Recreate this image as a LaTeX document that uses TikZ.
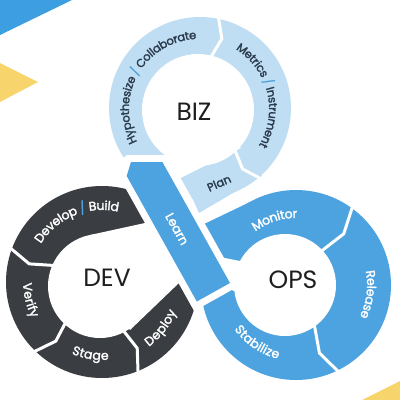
\documentclass[tikz,border=0pt]{standalone}
\usepackage{fontspec}
\setmainfont{Poppins}
\newfontfamily\lblfont[FakeBold=2]{Poppins}
\usetikzlibrary{calc,decorations.text}
\definecolor{lightb}{HTML}{BFDDF3}
\definecolor{midb}{HTML}{4DA3DF}
\definecolor{darkg}{HTML}{3A3D42}
\definecolor{navy}{HTML}{2A3B4C}
\definecolor{ylw}{HTML}{F7D46C}
\definecolor{bandb}{HTML}{3E9EE2}
\definecolor{ink}{HTML}{1E1E1E}
\newcommand\lbl{\lblfont\fontsize{11.5}{13}\selectfont}
\newcommand\lblb{\lblfont\fontsize{12.5}{14}\selectfont}
\newcommand\mychev[7]{\draw[sepline] ($(#1,#2)+(#3:#6)$) -- ($(#1,#2)+({#3+#7}:#5)$) -- ($(#1,#2)+(#3:#4)$);}
\begin{document}
\begin{tikzpicture}[x=1pt,y=-1pt,
  sepline/.style={white,line width=3pt,line join=miter,miter limit=4},
  ringtext/.style={decorate,decoration={text along path,text align=center,raise=-3.9pt}},
  bigtxt/.style={text=ink,font=\fontsize{25}{30}\selectfont,inner sep=0pt}]
\useasboundingbox (0,0) rectangle (400,400);
\fill[white] (0,0) rectangle (400,400);
% corner decorations
\fill[bandb] (0,0) -- (72,0) -- (0,35) -- cycle;
\fill[ylw] (0,63) -- (38,82) -- (0,102) -- cycle;
\fill[ylw] (362,400) -- (400,381) -- (400,400) -- cycle;
% BIZ ring
\begin{scope}
  \clip (0,0) -- (400,0) -- (400,260) -- (226.5,260) -- (169,157) -- (0,157) -- cycle;
  \fill[lightb] (200,108) circle[radius=91pt];
\end{scope}
\fill[lightb] (199,213) -- (262,176) -- (245,158) -- (185,182) -- cycle;
\fill[white] (198,110) circle[radius=56pt];
\fill[white] (198,110) -- (241,148) -- (180.5,178) -- (165,170) -- (168,157) -- cycle;
% DEV ring
\fill[darkg] (102,282) circle[radius=96pt];
\fill[white] (100,286) circle[radius=52pt];
\fill[white] (90,235) -- (145,223) -- (176,218) -- (200,265) -- (180,282) -- (130,330) -- (100,286) -- cycle;
% OPS ring
\fill[midb] (296,285) circle[radius=95pt];
\fill[midb] (200,226) -- (250,202) -- (275,230) -- (232,262) -- cycle;
\fill[white] (285,285) circle[radius=51pt];
\fill[white] (240,261) -- (210,255) -- (222,285) -- (234,291) -- (285,285) -- cycle;
% separators
\mychev{199}{109}{281}{48}{74}{98}{7}
\mychev{199}{109}{47}{50}{74}{100}{7}
\mychev{102}{282}{201}{45}{75}{101}{-7}
\mychev{102}{282}{135}{45}{75}{101}{-7}
\mychev{102}{282}{69}{45}{75}{101}{-7}
\mychev{296}{285}{305}{38}{70}{101}{8}
\mychev{296}{285}{63}{38}{72}{101}{8}
% Learn strip
\draw[white,line width=14pt,line join=miter] (131,162) -- (162.4,162) -- (230,283) -- (196.8,301.5) -- (126.7,176) -- cycle;
\fill[midb] (131,162) -- (162.4,162) -- (230,283) -- (196.8,301.5) -- (126.7,176) -- cycle;
% ring texts
\path[ringtext,decoration={text={|\lbl\color{navy}|Hypothesize |\lbl\color{midb}|/|\lbl\color{navy}| Collaborate}}]
  plot[domain=138:282,samples=70] ({199+74*cos(\x)},{109+74*sin(\x)});
\path[ringtext,decoration={text={|\lbl\color{navy}|Metrics |\lbl\color{midb}|/|\lbl\color{navy}| Instrument}}]
  plot[domain=283:410,samples=70] ({199+74*cos(\x)},{109+74*sin(\x)});
\path[ringtext,decoration={text={|\lblb\color{white}|Develop |\lblb\color{midb}|/|\lblb\color{white}| Build}}]
  plot[domain=195:300,samples=60] ({102+76*cos(\x)},{282+76*sin(\x)});
\path[ringtext,decoration={text={|\lblb\color{white}|Verify}}]
  plot[domain=0:1,samples=40] ({102+75*cos(198-64*\x)},{282+75*sin(198-64*\x)});
\path[ringtext,decoration={text={|\lblb\color{white}|Stage}}]
  plot[domain=0:1,samples=40] ({102+74*cos(132-66*\x)},{282+74*sin(132-66*\x)});
\path[ringtext,decoration={text={|\lblb\color{white}|Deploy}}]
  plot[domain=0:1,samples=40] ({102+76*cos(70-64*\x)},{282+76*sin(70-64*\x)});
\path[ringtext,decoration={text={|\lblb\color{white}|Monitor}}]
  plot[domain=218:286,samples=40] ({296+71*cos(\x)},{285+71*sin(\x)});
\path[ringtext,decoration={text={|\lblb\color{white}|Release}}]
  plot[domain=-26:41,samples=40] ({296+75*cos(\x)},{285+75*sin(\x)});
\path[ringtext,decoration={text={|\lblb\color{white}|Stabilize}}]
  plot[domain=0:1,samples=40] ({296+72*cos(162-76*\x)},{285+72*sin(162-76*\x)});
% straight labels
\node[rotate=24,text=navy,font=\lbl] (plan) at (219,183) {Plan};
\node[rotate=-60.8,text=white,font=\lblb] (learn) at (177,229) {Learn};
% centre labels
\node[bigtxt] (biz) at (194,112) {BIZ};
\node[bigtxt] (dev) at (107,278) {DEV};
\node[bigtxt] (ops) at (293,280) {OPS};
\end{tikzpicture}
\end{document}
